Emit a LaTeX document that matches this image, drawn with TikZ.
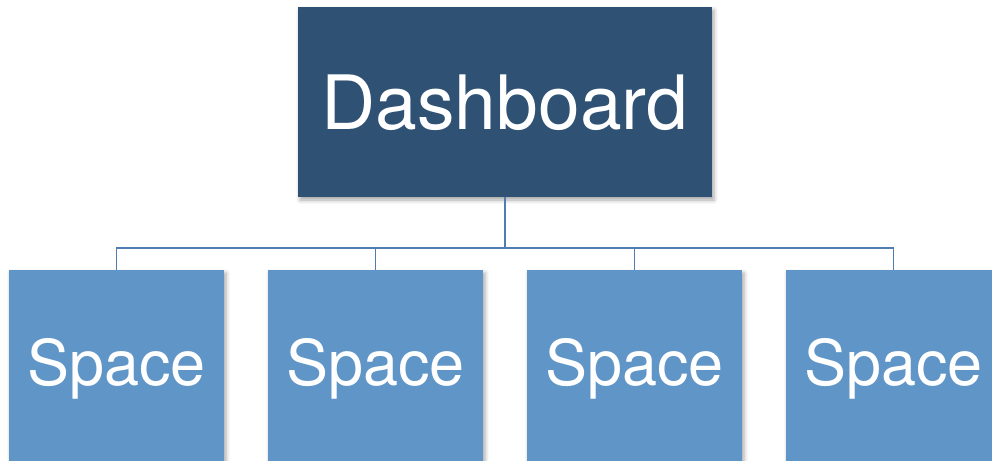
\documentclass[tikz,border=0pt]{standalone}
\usepackage{fontspec}
\setmainfont{TeX Gyre Heros}
\usetikzlibrary{shadows.blur}
\definecolor{dashblue}{RGB}{47,82,116}
\definecolor{spaceblue}{RGB}{96,150,199}
\definecolor{linkblue}{RGB}{79,125,178}
\tikzset{
  dashbox/.style={fill=dashblue, text=white, minimum width=414pt, minimum height=190pt,
    inner sep=0pt, font=\fontsize{75}{80}\selectfont, text height=54pt, text depth=0pt,
    blur shadow={shadow xshift=2pt, shadow yshift=-3pt, shadow blur radius=4pt, shadow opacity=35}},
  spacebox/.style={fill=spaceblue, text=white, minimum width=215pt, minimum height=210pt,
    inner sep=0pt, font=\fontsize{63}{68}\selectfont, text height=45pt, text depth=25pt,
    blur shadow={shadow xshift=2pt, shadow yshift=-3pt, shadow blur radius=4pt, shadow opacity=35}},
  link/.style={draw=linkblue, line width=1.6pt}
}
\begin{document}
\begin{tikzpicture}[x=1pt,y=-1pt]
\useasboundingbox (0,0) rectangle (992,460);
\begin{scope}
\clip (0,0) rectangle (992,460);
\coordinate (bus) at (505,248);
\draw[link] (116.5,248) -- (893.5,248);
\node[dashbox] (dash) at (505,102) {Dashboard};
\node[spacebox] (s1) at (116.5,375) {Space};
\node[spacebox] (s2) at (375.5,375) {Space};
\node[spacebox] (s3) at (634.5,375) {Space};
\node[spacebox] (s4) at (893.5,375) {Space};
\draw[link] (dash.south) -- (bus);
\draw[link] (s1.north) |- (bus);
\draw[link] (s2.north) |- (bus);
\draw[link] (s3.north) |- (bus);
\draw[link] (s4.north) |- (bus);
\end{scope}
\end{tikzpicture}
\end{document}
